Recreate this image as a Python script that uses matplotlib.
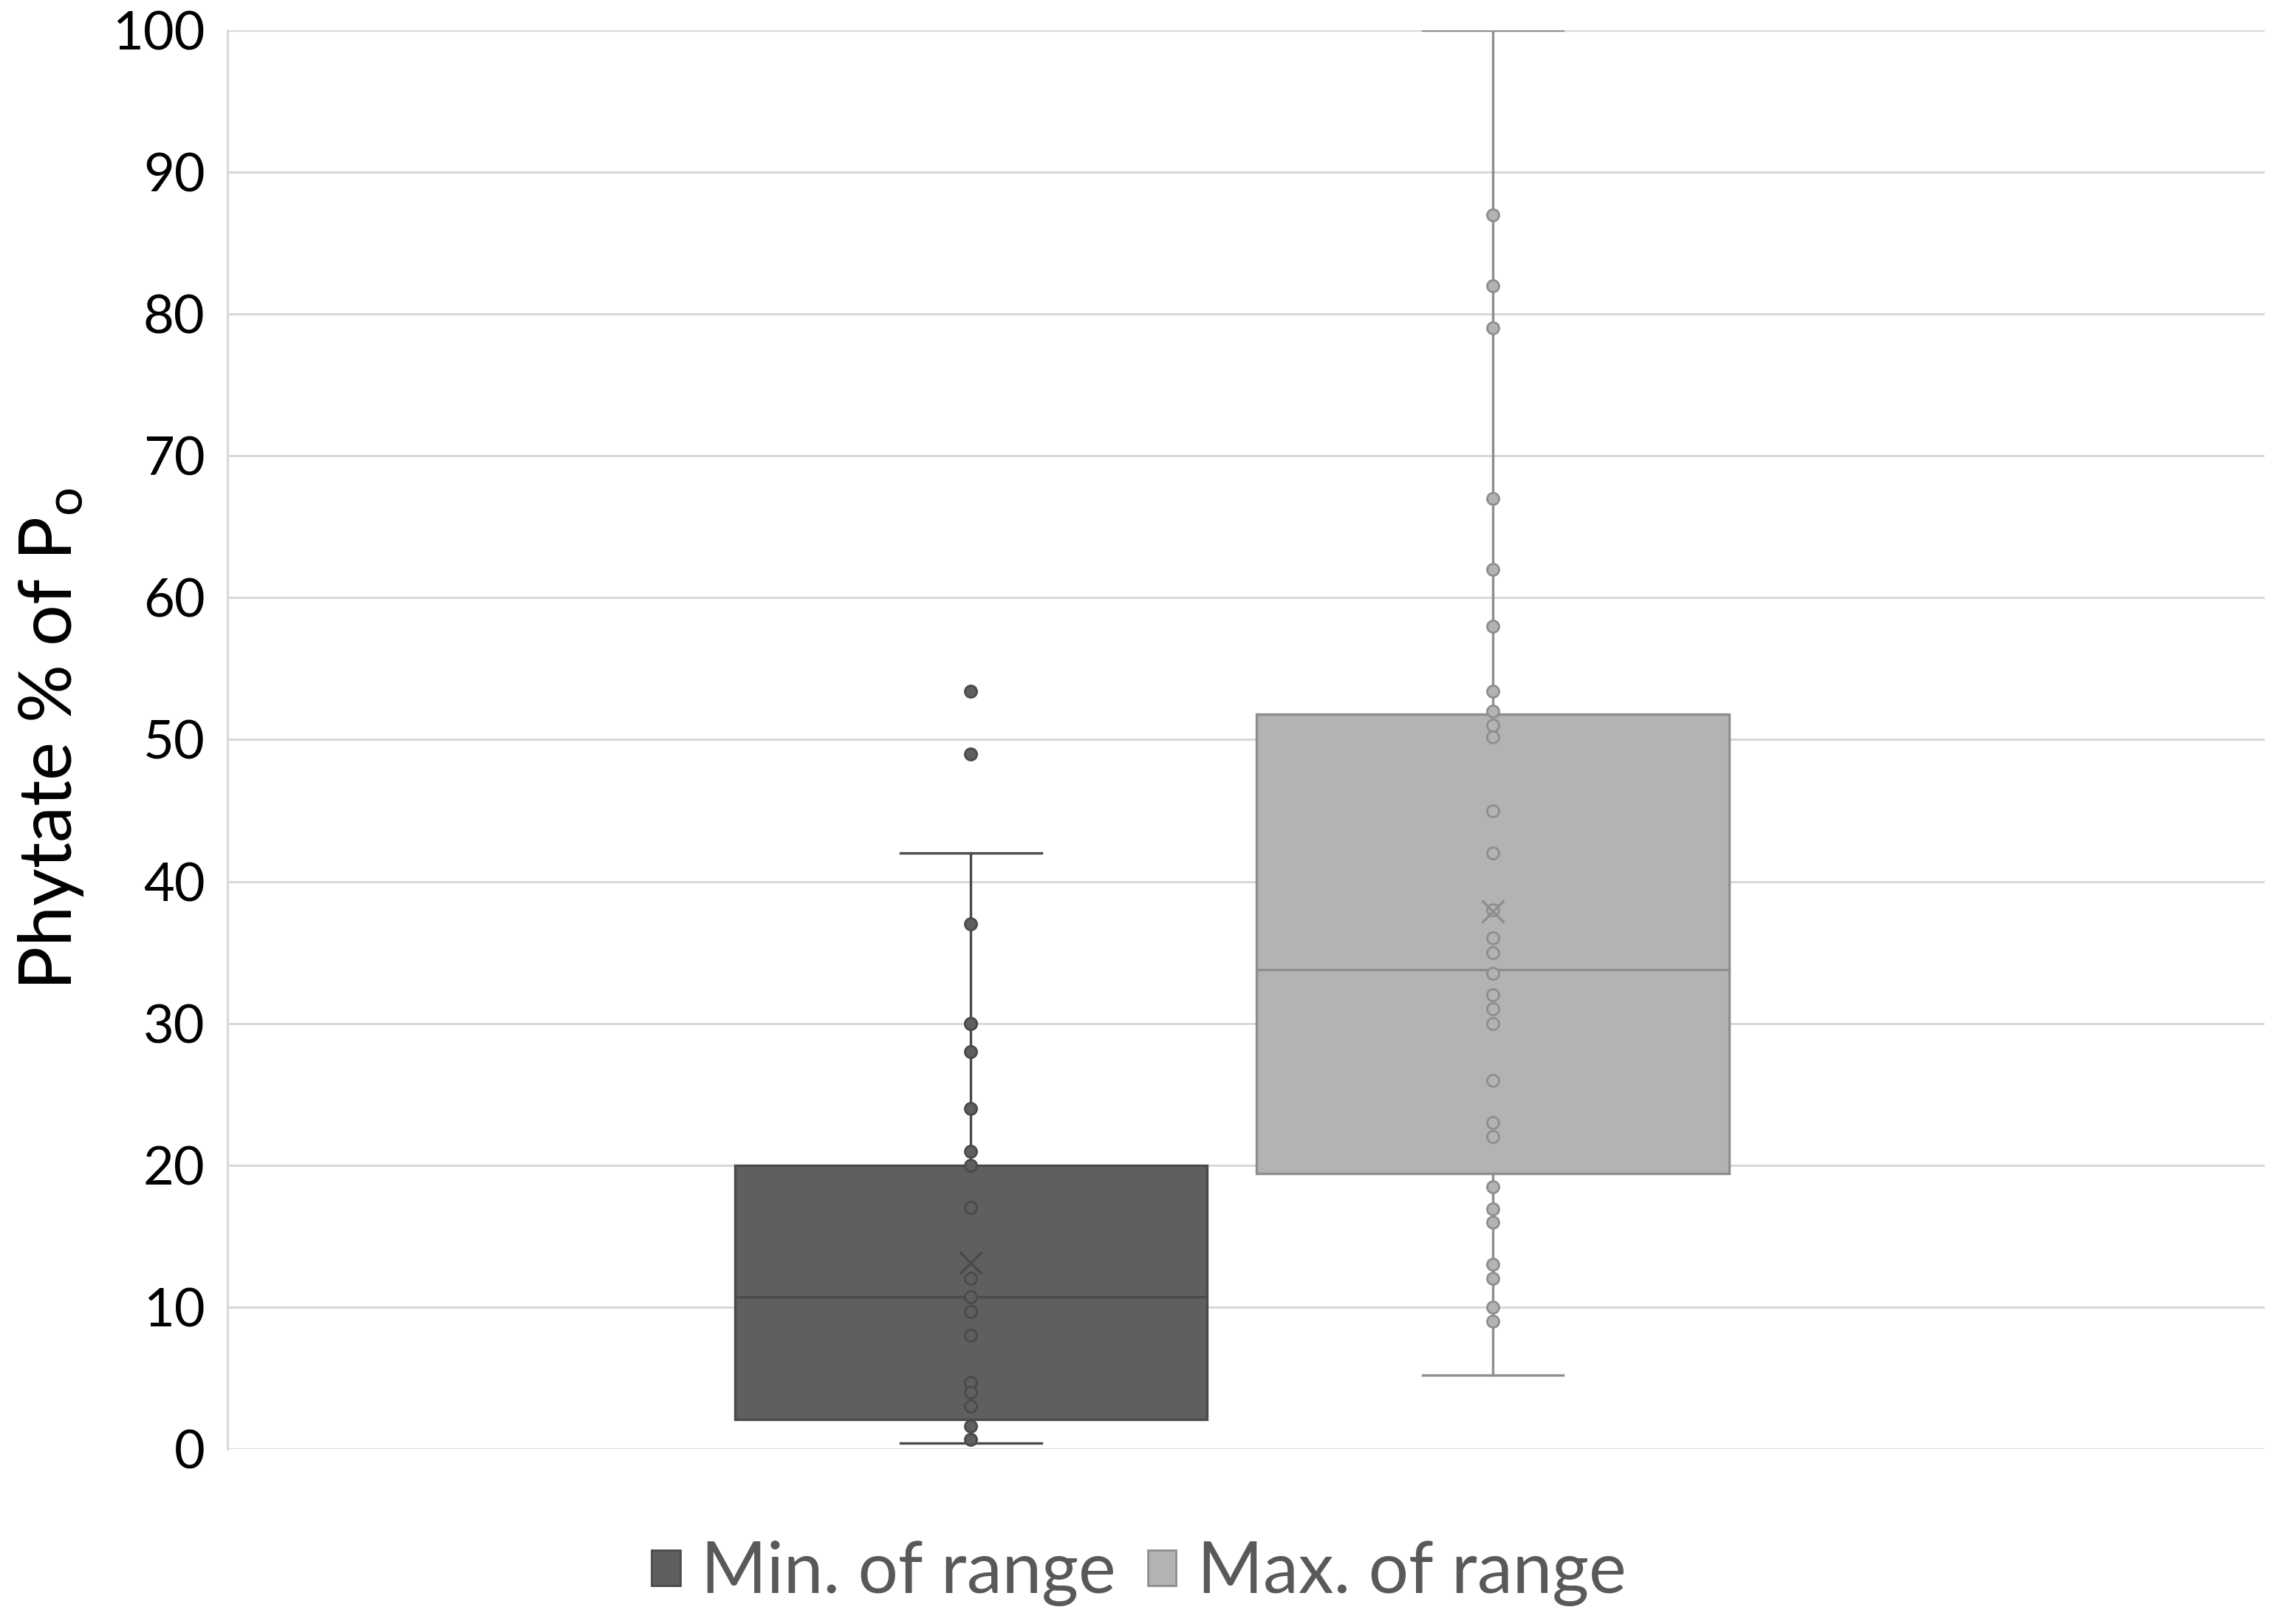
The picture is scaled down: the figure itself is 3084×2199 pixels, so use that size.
import matplotlib
import matplotlib.pyplot as plt
from matplotlib.patches import Patch

matplotlib.use("Agg")

plt.rcParams["font.family"] = ["Lato", "DejaVu Sans"]

# values (Excel box & whisker, inner points shown)
series_names = ["Min. of range", "Max. of range"]

min_points = [53.4, 49, 37, 30, 30, 28, 24, 21, 20, 17, 12, 10.7, 9.7, 8,
              4.7, 4, 3, 1.6, 0.7]
max_points = [87, 82, 79, 67, 62, 58, 53.4, 52, 51, 50.2, 45, 42, 38, 36, 35,
              33.5, 32, 31, 30, 26, 23, 22, 18.5, 16.9, 16, 13, 12, 10, 9]

whisker_low = [0.4, 5.2]
q1 = [2.1, 19.4]
median = [10.7, 33.8]
q3 = [20.0, 51.8]
whisker_high = [42, 100]
mean = [13.1, 37.9]

y_ticks = [0, 10, 20, 30, 40, 50, 60, 70, 80, 90, 100]

fill_colors = ["#5f5f5f", "#b3b3b3"]
edge_colors = ["#4a4a4a", "#8e8e8e"]
grid_color = "#d9d9d9"

fig = plt.figure(figsize=(15.42, 10.995), dpi=200)
ax = fig.add_axes([0.09987, 0.10778, 0.8943, 0.87358])

positions = [1, 2]
points = [min_points, max_points]

for i in range(2):
    stats = [{
        "whislo": whisker_low[i], "q1": q1[i], "med": median[i],
        "q3": q3[i], "whishi": whisker_high[i], "fliers": [],
    }]
    ec = edge_colors[i]
    ax.bxp(stats, positions=[positions[i]], widths=0.905, capwidths=0.27,
           patch_artist=True, showfliers=False, manage_ticks=False,
           boxprops=dict(facecolor=fill_colors[i], edgecolor=ec, linewidth=1.2),
           medianprops=dict(color=ec, linewidth=1.2),
           whiskerprops=dict(color=ec, linewidth=1.2),
           capprops=dict(color=ec, linewidth=1.2))
    ax.plot([positions[i]] * len(points[i]), points[i], linestyle="none",
            marker="o", markersize=5.8, markerfacecolor=fill_colors[i],
            markeredgecolor=ec, markeredgewidth=1.0, zorder=4)
    ax.plot([positions[i]], [mean[i]], linestyle="none", marker="x",
            markersize=11, markeredgecolor=ec, markeredgewidth=1.2, zorder=5)

ax.set_xlim(-0.424, 3.4787)
ax.set_ylim(0, 100)
ax.set_yticks(y_ticks)
ax.set_xticks([])
ax.tick_params(axis="y", length=0, pad=11, labelsize=26, labelcolor="black")

ax.grid(axis="y", color=grid_color, linewidth=1.1)
ax.set_axisbelow(True)
for side in ["top", "right", "bottom"]:
    ax.spines[side].set_visible(False)
ax.spines["left"].set_color(grid_color)
ax.spines["left"].set_linewidth(1.1)

fig.text(0.0224, 0.545, "Phytate % of P$\\mathregular{_o}$", rotation=90,
         ha="center", va="center", fontsize=35.5, color="black")

handles = [Patch(facecolor=fill_colors[i], edgecolor=edge_colors[i],
                 linewidth=1.0) for i in range(2)]
fig.legend(handles, series_names, loc="center", bbox_to_anchor=(0.5, 0.031),
           ncol=2, frameon=False, fontsize=34.5, labelcolor="#595959",
           handlelength=0.4, handleheight=0.4, handletextpad=0.3,
           columnspacing=0.45)

fig.savefig("out.png", dpi=200)
